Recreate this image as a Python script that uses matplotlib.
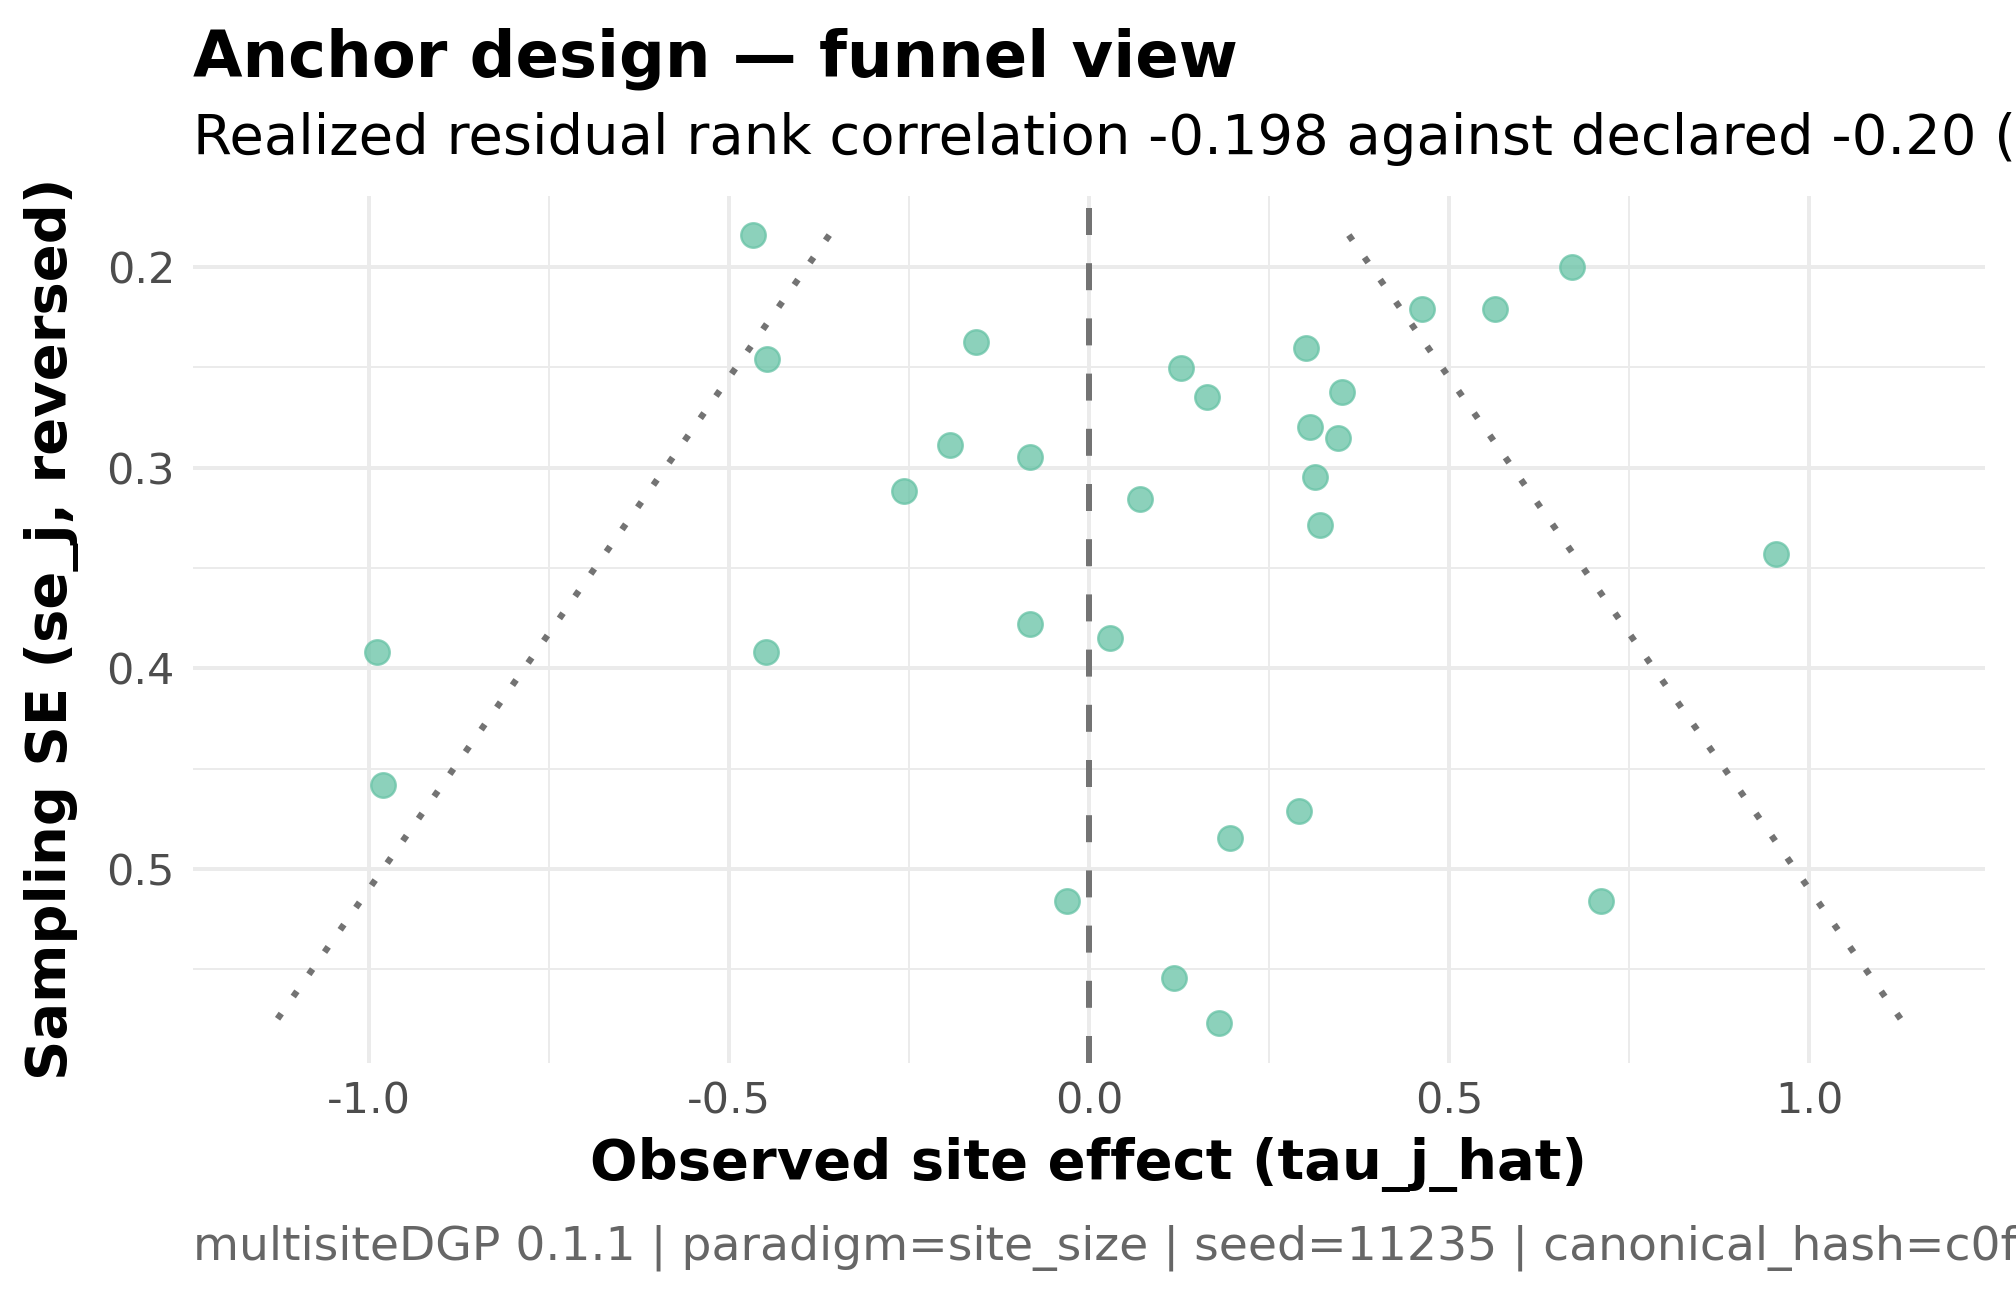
import matplotlib
matplotlib.use('Agg')
import matplotlib.pyplot as plt
import numpy as np

# observed site effects and their sampling SEs
tau_hat = [-0.467, -0.447, -0.157, -0.193, -0.082, -0.257, 0.670, 0.462, 0.563, 0.301,
           0.127, 0.164, 0.351, 0.307, 0.346, 0.314, 0.071, 0.321, 0.954, -0.082,
           0.029, -0.989, -0.449, -0.980, 0.291, 0.196, -0.030, 0.711, 0.118, 0.180]
se_j = [0.184, 0.2456, 0.2373, 0.2886, 0.2944, 0.3118, 0.200, 0.2206, 0.2206, 0.2405,
        0.2501, 0.2649, 0.2623, 0.2796, 0.2854, 0.3047, 0.3156, 0.3285, 0.3432, 0.3779,
        0.3850, 0.3920, 0.3920, 0.4582, 0.4710, 0.4845, 0.5160, 0.5160, 0.5545, 0.5770]

x_ticks = [-1.0, -0.5, 0.0, 0.5, 1.0]
y_ticks = [0.2, 0.3, 0.4, 0.5]

TITLE = 'Anchor design \u2014 funnel view'
SUBTITLE = 'Realized residual rank correlation -0.198 against declared -0.20 (tolerance 0.05)'
CAPTION = 'multisiteDGP 0.1.1 | paradigm=site_size | seed=11235 | canonical_hash=c0f3a91e'

POINT_COLOR = '#66C2A5'
GRID = '#EBEBEB'
REF = '#737373'


def main():
    plt.rcParams['font.family'] = ['DejaVu Sans']
    fig = plt.figure(figsize=(14, 9), dpi=144)
    ax = fig.add_axes([0.0957, 0.180, 0.889, 0.669])

    # funnel: +/- 1.96 * se over the observed se range
    se_grid = np.linspace(min(se_j), max(se_j), 50)
    ax.plot(-1.96 * se_grid, se_grid, color=REF, lw=3.2, ls=(0, (1, 3.25)), zorder=2)
    ax.plot(1.96 * se_grid, se_grid, color=REF, lw=3.2, ls=(0, (1, 3.25)), zorder=2)
    ax.axvline(0, color=REF, lw=3.0, ls=(0, (4.5, 4.7)), zorder=2)

    ax.scatter(tau_hat, se_j, s=150, color=POINT_COLOR, alpha=0.75,
               edgecolors=POINT_COLOR, linewidths=1.2, zorder=3)

    xr = 1.96 * max(se_j)
    ax.set_xlim(-xr - 0.1 * xr, xr + 0.1 * xr)
    ypad = 0.05 * (max(se_j) - min(se_j))
    ax.set_ylim(max(se_j) + ypad, min(se_j) - ypad)

    ax.set_xticks(x_ticks)
    ax.set_xticklabels([f'{t:.1f}' for t in x_ticks])
    ax.set_yticks(y_ticks)
    ax.set_yticklabels([f'{t:.1f}' for t in y_ticks])
    ax.set_xticks([-0.75, -0.25, 0.25, 0.75], minor=True)
    ax.set_yticks([0.25, 0.35, 0.45, 0.55], minor=True)

    ax.grid(which='major', color=GRID, lw=2.0)
    ax.grid(which='minor', color=GRID, lw=1.0)
    ax.set_axisbelow(True)
    for s in ax.spines.values():
        s.set_visible(False)
    ax.tick_params(which='both', length=0)
    ax.tick_params(axis='both', labelsize=21.5, labelcolor='#4D4D4D')
    ax.tick_params(axis='x', pad=9)
    ax.tick_params(axis='y', pad=9)

    ax.set_xlabel('Observed site effect (tau_j_hat)', fontsize=28, fontweight='bold', va='center')
    ax.set_ylabel('Sampling SE (se_j, reversed)', fontsize=28, fontweight='bold', va='center')
    ax.xaxis.set_label_coords(0.5, -0.117)
    ax.yaxis.set_label_coords(-0.079, 0.5)

    fig.text(0.0957, 0.9406, TITLE, fontsize=32, fontweight='bold', va='baseline')
    fig.text(0.0957, 0.881, SUBTITLE, fontsize=28, va='baseline')
    fig.text(0.0957, 0.028, CAPTION, fontsize=23.6, color='#666666', va='baseline')

    fig.savefig('out.png', dpi=144)


if __name__ == '__main__':
    main()
